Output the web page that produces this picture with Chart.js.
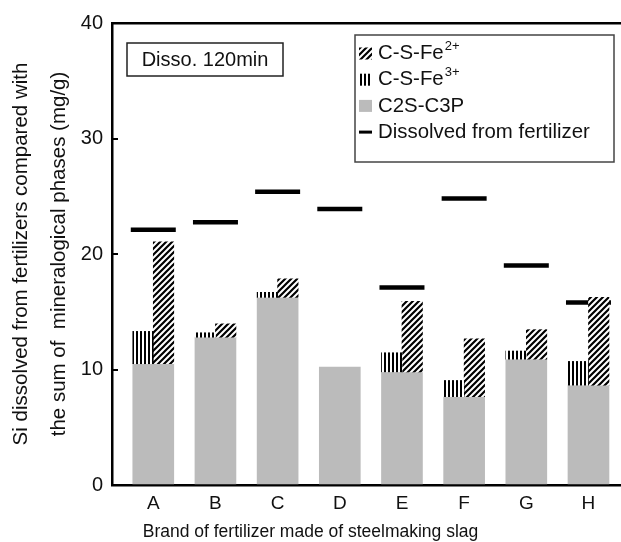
<!DOCTYPE html>
<html>
<head>
<meta charset="utf-8">
<script src="https://cdn.jsdelivr.net/npm/chart.js@4.4.1/dist/chart.umd.min.js"></script>
<style>
  html, body { margin: 0; padding: 0; background: #fff; }
</style>
</head>
<body>
<canvas id="myChart" width="621" height="542"></canvas>
<script>
const brands = ["A", "B", "C", "D", "E", "F", "G", "H"];
const c2sC3p = [10.5, 12.8, 16.25, 10.2, 9.8, 7.65, 10.9, 8.65];
const csFe3 = [2.8, 0.38, 0.43, 0, 1.65, 1.4, 0.7, 2.05];
const csFe2 = [10.55, 1.15, 1.6, 0, 6.1, 5.0, 2.55, 7.6];
const dissolved = [22.1, 22.75, 25.4, 23.9, 17.1, 24.8, 19.0, 15.8];
const yTicks = [0, 10, 20, 30, 40];
const legendNames = ["C-S-Fe", "C-S-Fe", "C2S-C3P", "Dissolved from fertilizer"];
const legendSups = ["2+", "3+", "", ""];

const canvas = document.getElementById("myChart");
const ctx = canvas.getContext("2d");
const GRAY = "#bbbbbb";
const FONT = "'Liberation Sans', Arial, sans-serif";

Chart.defaults.font.family = FONT;

// hatch fills
function makePattern(type) {
  const c = document.createElement("canvas");
  const p = c.getContext("2d");
  if (type === "diag") {
    c.width = 6;
    c.height = 6;
    p.fillStyle = "#fff";
    p.fillRect(0, 0, 6, 6);
    p.strokeStyle = "#000";
    p.lineWidth = 2.2;
    p.beginPath();
    p.moveTo(-1, 7); p.lineTo(7, -1);
    p.moveTo(-1, 1); p.lineTo(1, -1);
    p.moveTo(5, 7); p.lineTo(7, 5);
    p.stroke();
  } else {
    c.width = 4;
    c.height = 4;
    p.fillStyle = "#fff";
    p.fillRect(0, 0, 4, 4);
    p.fillStyle = "#000";
    p.fillRect(0, 0, 2, 4);
  }
  return ctx.createPattern(c, "repeat");
}
const diagPattern = makePattern("diag");
const vertPattern = makePattern("vert");

// hatched parts float on top of the gray C2S-C3P part
const grayData = brands.map((b, i) => ({ x: i, y: c2sC3p[i] }));
const fe3Data = brands.map((b, i) => ({ x: i, y: csFe3[i] ? [c2sC3p[i], c2sC3p[i] + csFe3[i]] : null }));
const fe2Data = brands.map((b, i) => ({ x: i, y: csFe2[i] ? [c2sC3p[i], c2sC3p[i] + csFe2[i]] : null }));
const dissData = brands.map((b, i) => ({ x: i, y: dissolved[i] }));

const X_MIN = -0.664;
const X_MAX = 7.523;

// legend box + "Disso. 120min" label
const extras = {
  id: "extras",
  afterDraw(chart) {
    const c = chart.ctx;
    const a = chart.chartArea;
    c.save();
    c.lineWidth = 1.5;
    c.strokeStyle = "#222";
    c.strokeRect(a.left + 15, a.top + 20, 156, 33);
    c.fillStyle = "#111";
    c.font = "20px " + FONT;
    c.textAlign = "center";
    c.textBaseline = "middle";
    c.fillText("Disso. 120min", a.left + 93, a.top + 37);

    const lx = a.left + 243;
    const ly = a.top + 12;
    c.strokeStyle = "#444";
    c.strokeRect(lx, ly, 259, 127);
    const fills = [diagPattern, vertPattern, GRAY, null];
    c.textAlign = "left";
    legendNames.forEach((name, i) => {
      const cy = ly + 18.5 + i * 26.2;
      const sx = lx + 4;
      if (fills[i]) {
        c.fillStyle = fills[i];
        c.fillRect(sx, cy - 6, 13, 12);
      } else {
        c.fillStyle = "#000";
        c.fillRect(sx, cy - 1.5, 13, 3);
      }
      c.fillStyle = "#111";
      c.font = "20.4px " + FONT;
      c.fillText(name, sx + 19, cy);
      if (legendSups[i]) {
        const w = c.measureText(name).width;
        c.font = "13px " + FONT;
        c.fillText(legendSups[i], sx + 19 + w + 1, cy - 7);
      }
    });
    c.restore();
  },
};

new Chart(ctx, {
  type: "bar",
  data: {
    datasets: [
      {
        label: "C2S-C3P",
        data: grayData,
        xAxisID: "x",
        backgroundColor: GRAY,
        barThickness: 41,
        grouped: false,
        order: 2,
      },
      {
        label: "C-S-Fe3+",
        data: fe3Data,
        xAxisID: "xh",
        backgroundColor: vertPattern,
        barThickness: 20.5,
        order: 0,
      },
      {
        label: "C-S-Fe2+",
        data: fe2Data,
        xAxisID: "xh",
        backgroundColor: diagPattern,
        barThickness: 20.5,
        order: 0,
      },
      {
        type: "line",
        label: "Dissolved from fertilizer",
        data: dissData,
        xAxisID: "x",
        showLine: false,
        pointStyle: "line",
        pointRadius: 22.5,
        pointHoverRadius: 22.5,
        pointBorderColor: "#000",
        pointBorderWidth: 4.5,
        borderColor: "#000",
        order: 1,
      },
    ],
  },
  options: {
    responsive: false,
    animation: false,
    events: [],
    layout: { autoPadding: false, padding: { top: 23, left: 0, right: 0, bottom: 0 } },
    plugins: {
      legend: { display: false },
      tooltip: { enabled: false },
      title: {
        display: true,
        position: "bottom",
        text: "Brand of fertilizer made of steelmaking slag",
        color: "#111",
        font: { size: 17.5, weight: "normal", lineHeight: "19px" },
        padding: { top: 8, bottom: 0 },
      },
    },
    scales: {
      x: {
        type: "linear",
        position: "bottom",
        min: X_MIN,
        max: X_MAX,
        bounds: "data",
        offset: false,
        afterBuildTicks: (axis) => {
          axis.ticks = brands.map((b, i) => ({ value: i }));
        },
        afterFit: (axis) => {
          axis.height = 30;
        },
        grid: { display: false, drawTicks: false, offset: false },
        border: { color: "#000", width: 2.5 },
        ticks: {
          autoSkip: false,
          maxRotation: 0,
          padding: 7,
          color: "#111",
          font: { size: 19 },
          callback: (v) => brands[v],
        },
      },
      xh: {
        type: "linear",
        position: "top",
        min: X_MIN,
        max: X_MAX,
        bounds: "data",
        offset: false,
        display: true,
        afterBuildTicks: (axis) => {
          axis.ticks = brands.map((b, i) => ({ value: i }));
        },
        afterFit: (axis) => {
          axis.height = 0;
        },
        grid: { display: false, drawTicks: false, offset: false },
        border: { color: "#000", width: 2.5 },
        ticks: { display: false },
      },
      y: {
        min: 0,
        max: 40,
        afterBuildTicks: (axis) => {
          axis.ticks = yTicks.map((v) => ({ value: v }));
        },
        afterFit: (axis) => {
          axis.width = 112;
          axis.paddingTop = 0;
          axis.paddingBottom = 0;
        },
        grid: { drawOnChartArea: false, tickLength: -6, color: "#000", lineWidth: 2 },
        border: { color: "#000", width: 2.5 },
        ticks: { padding: 15, color: "#111", font: { size: 20 } },
        title: {
          display: true,
          text: ["Si dissolved from fertilizers compared with", "the sum of  mineralogical phases (mg/g)"],
          color: "#111",
          font: { size: 20.5, lineHeight: "38px" },
          padding: { top: 2, bottom: 0 },
        },
      },
    },
  },
  plugins: [extras],
});
</script>
</body>
</html>
